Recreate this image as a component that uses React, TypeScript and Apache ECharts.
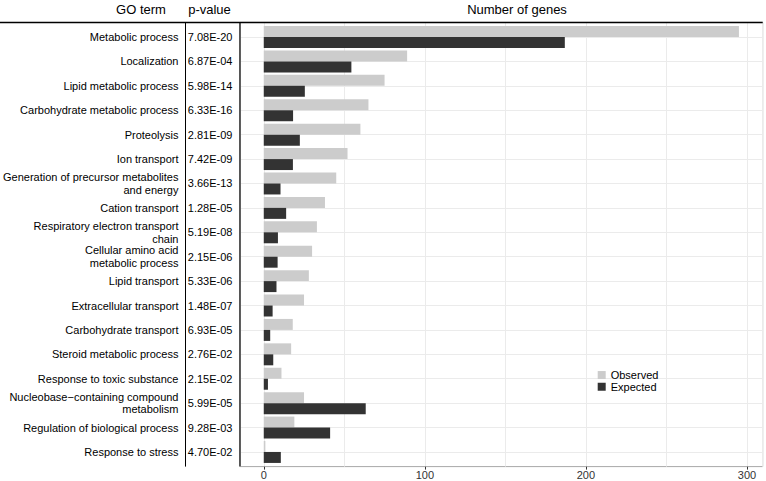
import React, { useEffect, useRef } from "react";
import * as echarts from "echarts";

const categories = [
  "Metabolic process",
  "Localization",
  "Lipid metabolic process",
  "Carbohydrate metabolic process",
  "Proteolysis",
  "Ion transport",
  "Generation of precursor metabolites\nand energy",
  "Cation transport",
  "Respiratory electron transport\nchain",
  "Cellular amino acid\nmetabolic process",
  "Lipid transport",
  "Extracellular transport",
  "Carbohydrate transport",
  "Steroid metabolic process",
  "Response to toxic substance",
  "Nucleobase\u2212containing compound\nmetabolism",
  "Regulation of biological process",
  "Response to stress",
];

const pValues = [
  "7.08E-20", "6.87E-04", "5.98E-14", "6.33E-16", "2.81E-09", "7.42E-09",
  "3.66E-13", "1.28E-05", "5.19E-08", "2.15E-06", "5.33E-06", "1.48E-07",
  "6.93E-05", "2.76E-02", "2.15E-02", "5.99E-05", "9.28E-03", "4.70E-02",
];

const observed = [295, 89, 75, 65, 60, 52, 45, 38, 33, 30, 28, 25, 18, 17, 11, 25, 19, 1];
const expected = [186.9, 54.4, 25.5, 18.2, 22.4, 18.1, 10.4, 13.9, 8.8, 8.6, 7.9, 5.5, 4.0, 5.9, 2.6, 63.3, 41.2, 10.6];

const xTicks = [0, 100, 200, 300];
const seriesNames = ["Observed", "Expected"];
const headers = ["GO term", "p-value", "Number of genes"];

const FONT = "'Liberation Sans', Arial, Helvetica, sans-serif";

export default function App() {
  const ref = useRef<HTMLDivElement>(null);

  useEffect(() => {
    if (!ref.current) return;
    const chart = echarts.init(ref.current, undefined, { renderer: "svg" });

    const W = 766;
    const H = 481;
    const panelLeft = 240;
    const panelRightX = 762.7;
    const panelTop = 22.4;
    const panelBottomY = 466.6;
    const n = categories.length;
    const band = (panelBottomY - panelTop) / (n - 1 + 1.2);
    const right = W - panelRightX;

    const dataMax = Math.max(...observed, ...expected);
    const xMin = -0.05 * dataMax;
    const xMax = dataMax * 1.05;

    const grid = [
      {
        left: panelLeft,
        right,
        top: panelTop,
        bottom: H - panelBottomY,
        show: true,
        borderColor: "#a8a8a8",
        borderWidth: 1,
        backgroundColor: "transparent",
      },
      {
        left: panelLeft,
        right,
        top: panelTop + 0.1 * band,
        bottom: H - panelBottomY + 0.1 * band,
      },
      {
        left: panelLeft,
        right,
        top: panelTop + 0.6 * band,
        bottom: H - panelBottomY + 0.6 * band,
      },
    ];

    const headerY = 9;

    const option: any = {
      animation: false,
      grid,
      legend: {
        data: seriesNames,
        orient: "vertical",
        left: 597.7,
        top: 369.2,
        padding: 0,
        itemGap: 0,
        itemWidth: 8,
        itemHeight: 8,
        icon: "rect",
        textStyle: { fontSize: 11, color: "#000", lineHeight: 11.7, fontFamily: FONT },
      },
      xAxis: [
        {
          gridIndex: 0,
          type: "value",
          position: "bottom",
          min: xMin,
          max: xMax,
          axisLine: { show: false },
          splitLine: { show: false },
          axisTick: { show: true, customValues: xTicks, length: 3, lineStyle: { color: "#333" } },
          axisLabel: { customValues: xTicks, margin: 3, fontSize: 11, color: "#333", fontFamily: FONT },
        },
        {
          gridIndex: 0,
          type: "value",
          position: "top",
          min: xMin,
          max: xMax,
          minInterval: 50,
          maxInterval: 50,
          axisLine: { show: false },
          axisTick: { show: false },
          axisLabel: { show: false },
          splitLine: { show: true, lineStyle: { color: "#ebebeb", width: 1 } },
        },
        { gridIndex: 1, type: "value", min: xMin, max: xMax, show: false },
        { gridIndex: 2, type: "value", min: 0, max: 1, show: false },
      ],
      yAxis: [
        { gridIndex: 0, type: "value", min: 0, max: 1, show: false },
        { gridIndex: 1, type: "category", data: categories, inverse: true, show: false },
        {
          gridIndex: 2,
          type: "category",
          data: categories,
          inverse: true,
          boundaryGap: false,
          position: "left",
          axisLine: { show: false },
          axisTick: { show: false },
          splitLine: { show: true, interval: 0, lineStyle: { color: "#ebebeb", width: 1 } },
          axisLabel: {
            interval: 0,
            margin: 61.7,
            fontSize: 11,
            color: "#000",
            lineHeight: 12.7,
            align: "right",
            fontFamily: FONT,
          },
        },
        {
          gridIndex: 2,
          type: "category",
          data: pValues,
          inverse: true,
          boundaryGap: false,
          position: "left",
          axisLine: { show: false },
          axisTick: { show: false },
          splitLine: { show: false },
          axisLabel: { interval: 0, margin: 7.7, fontSize: 11, color: "#000", fontFamily: FONT },
        },
      ],
      series: [
        {
          type: "bar",
          name: seriesNames[0],
          xAxisIndex: 2,
          yAxisIndex: 1,
          data: observed,
          barGap: "0%",
          barCategoryGap: "10%",
          itemStyle: { color: "#cccccc" },
        },
        {
          type: "bar",
          name: seriesNames[1],
          xAxisIndex: 2,
          yAxisIndex: 1,
          data: expected,
          barGap: "0%",
          barCategoryGap: "10%",
          itemStyle: { color: "#333333" },
        },
      ],
      graphic: [
        {
          type: "text",
          x: 141,
          y: headerY,
          z: 100,
          style: { text: headers[0], fontSize: 13, fill: "#000", align: "center", verticalAlign: "middle", fontFamily: FONT },
        },
        {
          type: "text",
          x: 209.5,
          y: headerY,
          z: 100,
          style: { text: headers[1], fontSize: 13, fill: "#000", align: "center", verticalAlign: "middle", fontFamily: FONT },
        },
        {
          type: "text",
          x: 517,
          y: headerY,
          z: 100,
          style: { text: headers[2], fontSize: 13, fill: "#000", align: "center", verticalAlign: "middle", fontFamily: FONT },
        },
        {
          type: "line",
          z: 100,
          shape: { x1: 0, y1: panelTop, x2: panelRightX, y2: panelTop },
          style: { stroke: "#000", lineWidth: 1.5 },
        },
        {
          type: "line",
          z: 100,
          shape: { x1: 185.5, y1: panelTop, x2: 185.5, y2: panelBottomY },
          style: { stroke: "#000", lineWidth: 1 },
        },
        {
          type: "line",
          z: 100,
          shape: { x1: panelLeft, y1: panelTop, x2: panelLeft, y2: panelBottomY },
          style: { stroke: "#000", lineWidth: 1.2 },
        },
      ],
    };

    chart.setOption(option);
    return () => chart.dispose();
  }, []);

  return (
    <div
      ref={ref}
      style={{ position: "absolute", left: 0, top: 0, width: 766, height: 481, background: "#fff" }}
    />
  );
}
